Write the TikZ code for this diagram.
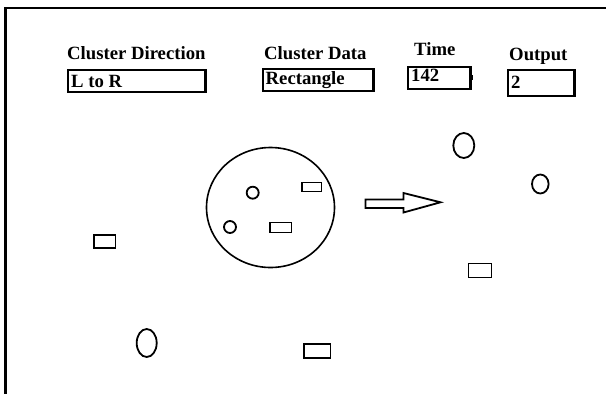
\documentclass[tikz,border=0pt]{standalone}
\usepackage{fontspec}
\setmainfont{Liberation Serif}
\begin{document}
\begin{tikzpicture}[x=1pt,y=-1pt,
  frameline/.style={line width=2.2pt},
  fieldbox/.style={draw,line width=2.2pt,inner sep=0pt},
  lbl/.style={anchor=base west,inner sep=0pt,font=\fontsize{18.7}{20}\selectfont\bfseries},
  shp/.style={line width=1.8pt},
  bigc/.style={line width=1.6pt}]
\useasboundingbox (0,0) rectangle (606,394);
% frame
\coordinate (f0) at (5.5,394);
\coordinate (f1) at (5.5,7.7);
\coordinate (f2) at (606,7.7);
\draw[frameline] (f0) -- (f1) -- (f2);
% labels
\node[lbl] (l1) at (67,59) {Cluster Direction};
\node[lbl] (l2) at (264,59) {Cluster Data};
\node[lbl] (l3) at (414,55) {Time};
\node[lbl] (l4) at (509,60) {Output};
% boxes
\draw[fieldbox] (68,70) rectangle (205.5,92) coordinate (b1);
\draw[fieldbox] (263,69) rectangle (373.5,91) coordinate (b2);
\draw[fieldbox] (408,67) rectangle (470.5,89) coordinate (b3);
\draw[line width=1.2pt] (472.5,75) -- (472.5,80);
\draw[fieldbox] (508,70) rectangle (574.5,96) coordinate (b4);
\node[lbl] (t1) at (71,87) {L to R};
\node[lbl] (t2) at (265.5,84) {Rectangle};
\node[lbl] (t3) at (411,81) {142};
\node[lbl] (t4) at (511,88) {2};
% cluster
\draw[bigc] (270.5,207.5) ellipse [x radius=64, y radius=60];
\draw[shp] (252.7,192.7) circle [radius=6];
\draw[shp] (230,227) circle [radius=6];
\draw[shp] (302,182.5) rectangle (321.5,191.5);
\draw[shp] (270,222.5) rectangle (291.5,232.5);
% arrow
\draw[shp] (365.5,199.5) -- (403.5,199.5) -- (403.5,193) -- (440.5,202.3) -- (403.5,212.5) -- (403.5,208) -- (365.5,208) -- cycle;
% scattered objects
\draw[shp] (463.8,145.5) ellipse [x radius=10.5, y radius=12.5];
\draw[shp] (540.3,184) ellipse [x radius=8.3, y radius=9.5];
\draw[shp] (468.5,263.5) rectangle (491.5,277.5);
\draw[shp] (94,235) rectangle (115.5,248);
\draw[shp] (146.7,343) ellipse [x radius=10, y radius=14];
\draw[shp] (304,344) rectangle (330.5,358);
\end{tikzpicture}
\end{document}
